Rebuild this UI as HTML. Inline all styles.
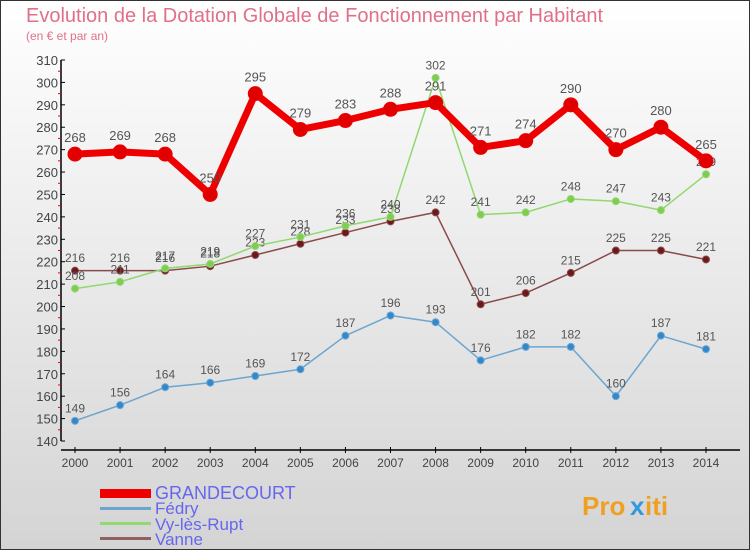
<!DOCTYPE html>
<html><head><meta charset="utf-8"><style>
body{margin:0}
svg{display:block;font-family:"Liberation Sans","DejaVu Sans",sans-serif}
</style></head><body>
<svg width="750" height="550" viewBox="0 0 750 550">
<defs><linearGradient id="bg" x1="0" y1="0" x2="0" y2="1"><stop offset="0" stop-color="#ffffff"/><stop offset="1" stop-color="#d4d4d4"/></linearGradient></defs>
<rect x="0.5" y="0.5" width="749" height="549" fill="url(#bg)" stroke="#333"/>
<text x="26" y="22" font-size="20" fill="#e0708a">Evolution de la Dotation Globale de Fonctionnement par Habitant</text>
<text x="26" y="40" font-size="12" fill="#e0708a">(en € et par an)</text>
<g id="axes"></g>
<g id="series"></g>
<g id="legend">
<rect x="100" y="489" width="51" height="9" fill="#ee0000"/>
<text x="155" y="499" font-size="18" fill="#6666ee">GRANDECOURT</text>
<rect x="100" y="507" width="51" height="3" fill="#6aa6d0"/>
<text x="155" y="514" font-size="17" fill="#6666ee">Fédry</text>
<rect x="100" y="522" width="51" height="3" fill="#90d870"/>
<text x="155" y="530" font-size="17" fill="#6666ee">Vy-lès-Rupt</text>
<rect x="100" y="537" width="51" height="3" fill="#906060"/>
<text x="155" y="545" font-size="17" fill="#6666ee">Vanne</text>
</g>
<g font-size="26" font-weight="bold">
<text x="582" y="515" fill="#f0a020">Pro</text><text x="630" y="515" fill="#3399dd">x</text><text x="645" y="515" fill="#f0a020">iti</text>
</g>
</svg>
<script>
const years=[2000,2001,2002,2003,2004,2005,2006,2007,2008,2009,2010,2011,2012,2013,2014];
const yTicks=[140,150,160,170,180,190,200,210,220,230,240,250,260,270,280,290,300,310];
const grandecourt=[268,269,268,250,295,279,283,288,291,271,274,290,270,280,265];
const fedry=[149,156,164,166,169,172,187,196,193,176,182,182,160,187,181];
const vy=[208,211,217,219,227,231,236,240,302,241,242,248,247,243,259];
const vanne=[216,216,216,218,223,228,233,238,242,201,206,215,225,225,221];
const NS="http://www.w3.org/2000/svg";
const xS=i=>75+i*(706-75)/14;
const yS=v=>441-(v-140)*(441-60)/170;
function mk(t,a,p){const e=document.createElementNS(NS,t);for(const k in a)e.setAttribute(k,a[k]);p.appendChild(e);return e;}
const ax=document.getElementById('axes');
let l=mk('line',{x1:61,y1:60,x2:61,y2:441,stroke:'#000','stroke-width':1.5},ax);


l=mk('line',{x1:61,y1:450,x2:740,y2:450,stroke:'#000','stroke-width':1.5},ax);


yTicks.forEach((v,i)=>{
 mk('line',{x1:61,y1:yS(v),x2:65,y2:yS(v),stroke:'#000'},ax);
 if(i<yTicks.length-1)mk('line',{x1:58,y1:yS(v+5),x2:61,y2:yS(v+5),stroke:'#e00'},ax);
 const t=mk('text',{x:58,y:yS(v)+5,'font-size':13,fill:'#444','text-anchor':'end'},ax);
 t.textContent=v;
 
 
});
years.forEach((y,i)=>{
 mk('line',{x1:xS(i),y1:447,x2:xS(i),y2:453,stroke:'#000'},ax);
 const t=mk('text',{x:xS(i),y:467,'font-size':12,fill:'#444','text-anchor':'middle'},ax);
 t.textContent=y;
 
 
});
const sg=document.getElementById('series');
function draw(name,vals,color,w,r,dot,fs){
 const g=mk('g',{},sg);
 
 
 const pts=vals.map((v,i)=>xS(i)+','+yS(v)).join(' ');
 mk('polyline',{points:pts,fill:'none',stroke:color,'stroke-width':w,'stroke-linejoin':'round'},g);
 vals.forEach((v,i)=>{
  const c=mk('circle',{cx:xS(i),cy:yS(v),r:r,fill:dot,stroke:color,'stroke-width':1},g);
  
  
  const t=mk('text',{x:xS(i),y:yS(v)-r-5,'font-size':fs,fill:'#555','text-anchor':'middle'},g);
  t.textContent=v;
  
  
 });
}
draw('vanne',vanne,'#8a4a4a',1.5,3.5,'#6a1a1a',12);
draw('vy-les-rupt',vy,'#90d870',1.5,3.5,'#80cc50',12);
draw('fedry',fedry,'#6aa6d0',1.5,3.5,'#3388cc',12);
draw('grandecourt',grandecourt,'#ee0000',7,7,'#e00000',13);
</script>
</body></html>
